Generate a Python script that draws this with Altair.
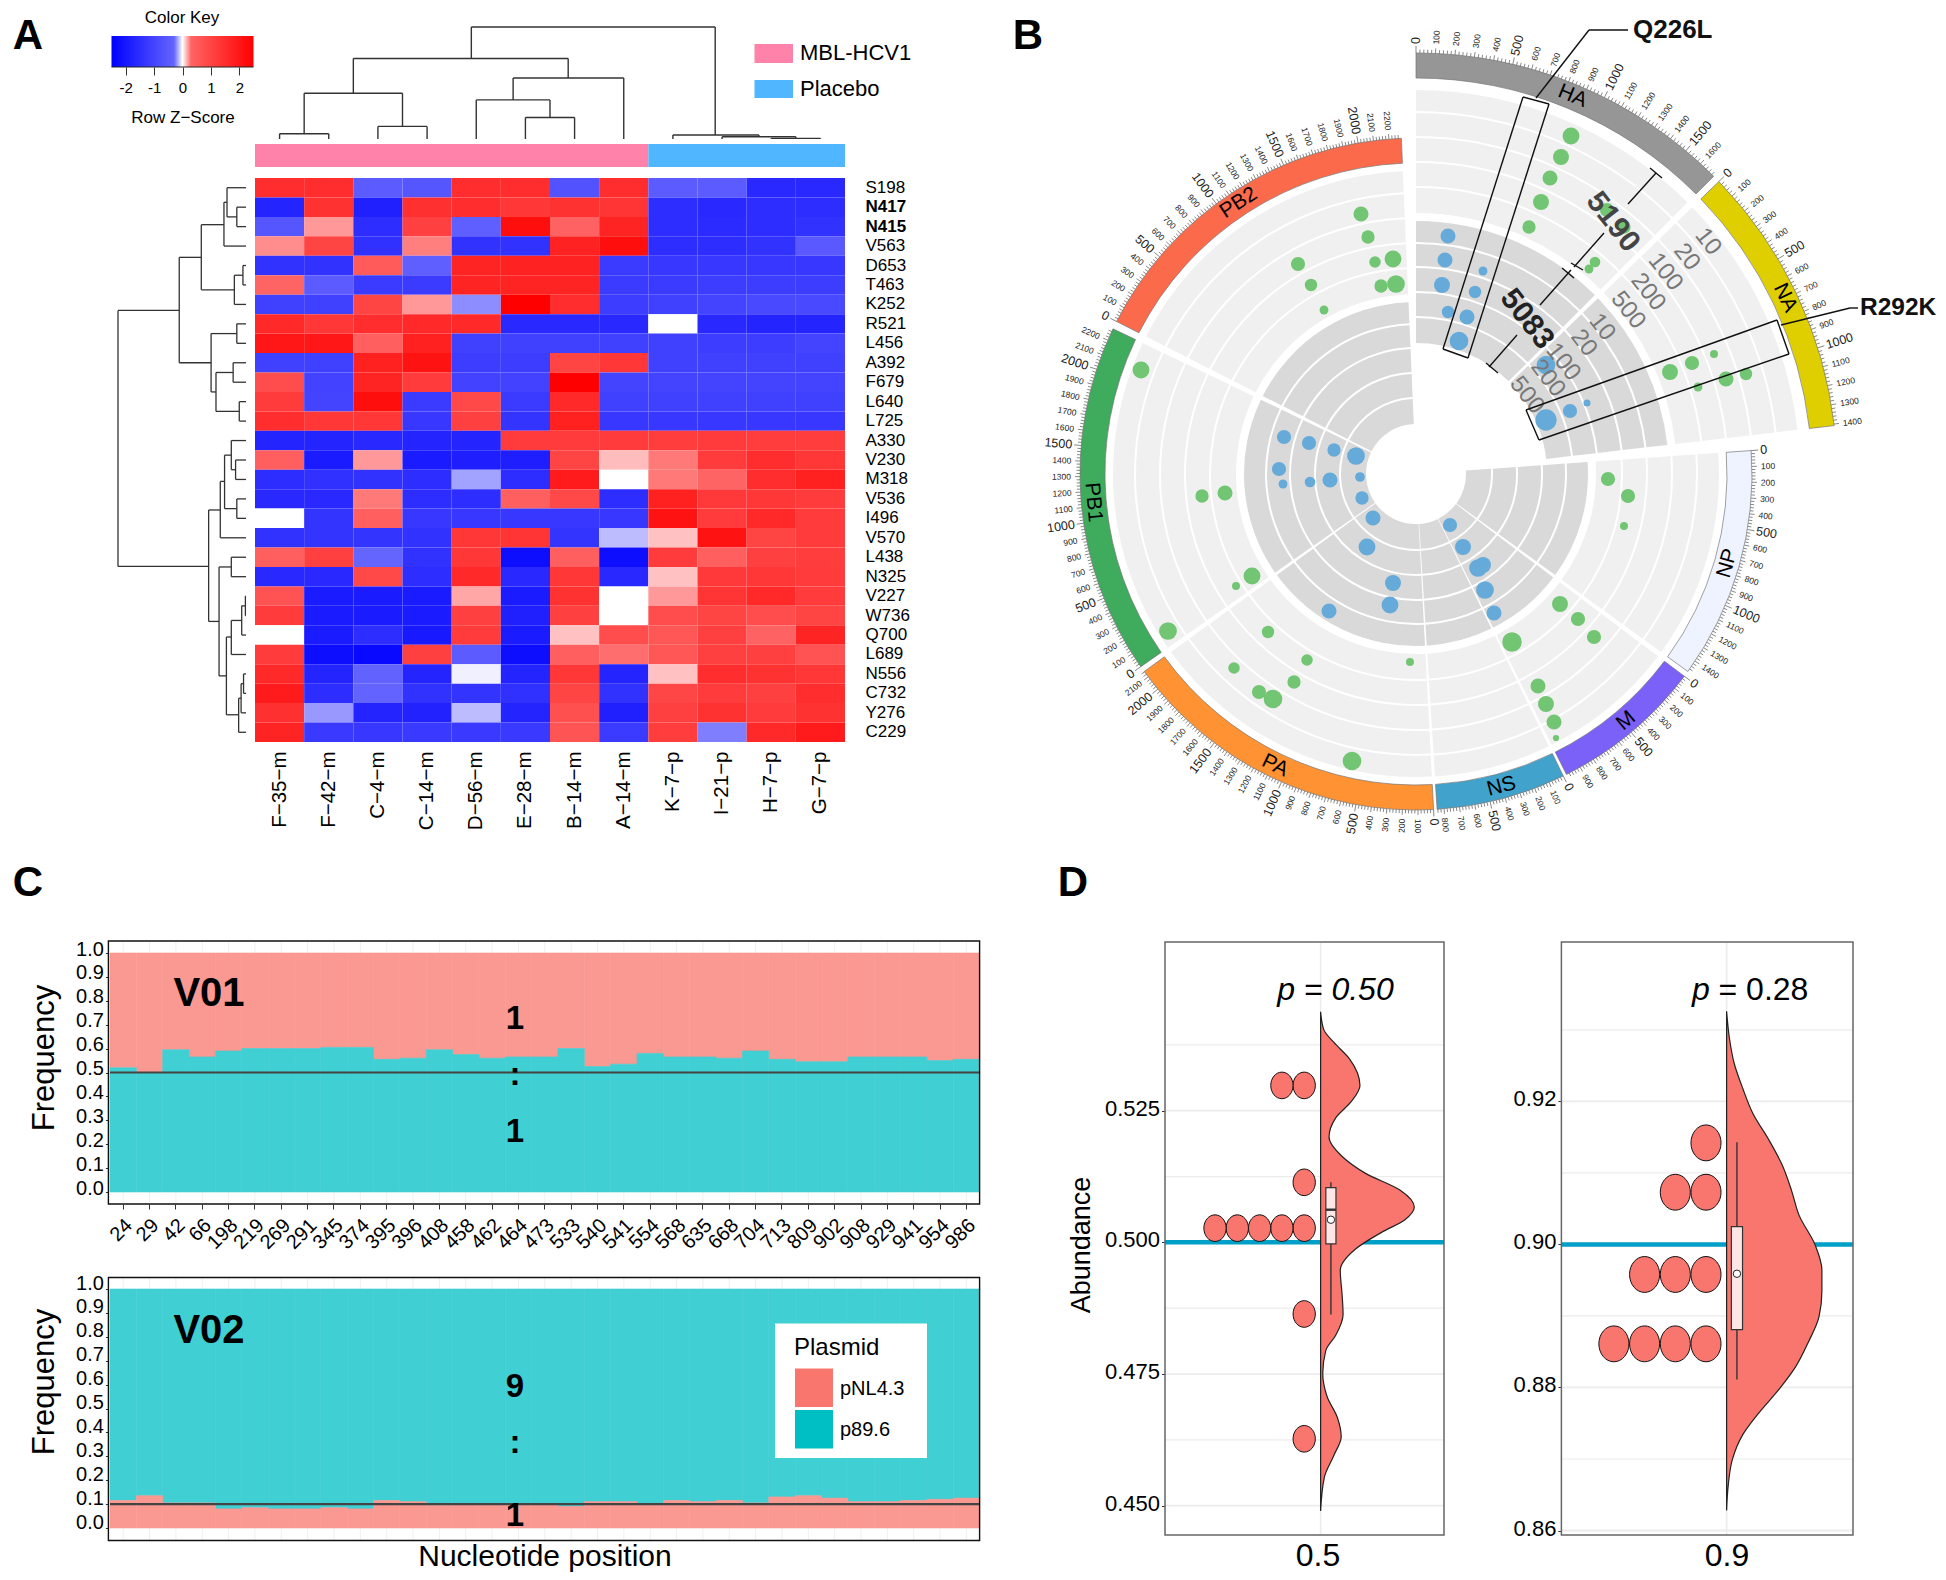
import math
import altair as alt
import pandas as pd

W, H = 1930, 1566
FONT = "Liberation Sans"
one = pd.DataFrame({"a": [0]})

# ---------------- Panel A data
hm_cols = ["F−35−m","F−42−m","C−4−m","C−14−m","D−56−m","E−28−m","B−14−m","A−14−m","K−7−p","I−21−p","H−7−p","G−7−p"]
hm_rows = ["S198","N417","N415","V563","D653","T463","K252","R521","L456","A392","F679","L640","L725","A330","V230","M318","V536","I496","V570","L438","N325","V227","W736","Q700","L689","N556","C732","Y276","C229"]
hm_vals = [
 [1.5,1.5,-.5,-.6,1.5,1.5,-.7,1.5,-.5,-.5,-1.6,-1.6],
 [-1.7,1.4,-1.8,1.45,1.5,1.3,1.4,1.35,-1.5,-1.6,-1.5,-1.5],
 [-.6,.2,-1.5,1.1,-.4,2.2,.35,1.7,-1.5,-1.55,-1.5,-1.4],
 [.22,1.0,-1.45,.25,-1.4,-1.4,1.75,2.2,-1.5,-1.5,-1.4,-.55],
 [-1.4,-1.4,.5,-.4,1.7,1.75,1.75,-1.2,-1.3,-1.3,-1.3,-1.3],
 [.3,-.5,-1.2,-1.2,1.7,1.7,1.7,-1.2,-1.2,-1.15,-1.15,-1.15],
 [-1.1,-1.1,1.0,.2,-.22,2.5,1.5,-1.15,-1.1,-1.0,-.9,-.9],
 [1.6,1.3,1.5,1.6,1.6,-1.6,-1.6,-1.6,0,-1.6,-1.7,-1.7],
 [2.0,2.0,.4,1.8,-1.1,-1.1,-1.1,-1.1,-1.1,-1.15,-1.15,-1.0],
 [-1.1,-1.1,1.8,2.1,-1.15,-1.15,1.0,1.3,-1.1,-1.1,-1.1,-1.1],
 [.8,-1.05,1.7,1.2,-1.05,-1.05,2.5,-1.0,-1.0,-1.0,-1.0,-1.0],
 [1.2,-1.0,2.2,-1.2,.9,-1.2,1.6,-1.1,-1.1,-1.1,-1.1,-1.1],
 [1.5,1.3,1.3,-1.3,1.1,-1.35,1.8,-1.3,-1.3,-1.3,-1.3,-1.3],
 [-1.7,-1.7,-1.6,-1.7,-1.7,1.2,1.2,1.2,1.15,1.2,1.15,1.15],
 [.4,-1.9,.2,-1.9,-1.85,-1.85,1.0,.13,.26,1.2,1.5,1.3],
 [-1.5,-1.45,-1.4,-1.5,-.18,-1.5,1.9,0,.26,.3,1.5,1.8],
 [-1.6,-1.6,.26,-1.5,-1.5,.4,.9,-1.5,1.8,1.25,1.3,1.2],
 [0,-1.35,.4,-1.3,-1.3,-1.3,-1.3,-1.3,2.1,1.2,1.6,1.2],
 [-1.4,-1.35,-1.35,-1.4,1.3,1.35,-1.35,-.13,.12,2.1,1.0,1.2],
 [.4,1.1,-.3,-1.4,1.3,-2.2,.4,-2.2,1.2,.4,1.1,1.15],
 [-1.6,-1.6,.9,-1.5,1.6,-1.6,1.3,-1.6,.12,1.25,1.3,1.2],
 [.7,-1.9,-1.9,-1.9,.17,-1.9,1.4,0,.2,1.35,1.6,1.2],
 [1.2,-1.9,-1.9,-1.9,1.1,-1.8,1.1,0,.8,1.0,.8,1.0],
 [0,-1.9,-1.5,-1.95,1.2,-1.9,.12,.8,.6,1.1,.35,1.7],
 [1.2,-2.2,-2.3,1.1,-.5,-2.2,.4,.28,.6,1.1,1.1,.7],
 [1.6,-1.7,-.35,-1.7,-.03,-1.7,1.3,-1.7,.12,1.5,1.4,1.3],
 [1.9,-1.5,-.33,-1.4,-1.35,-1.45,1.0,-1.4,.95,1.2,1.1,1.5],
 [1.45,-.2,-1.7,-1.75,-.13,-1.7,.75,-1.8,1.1,1.4,1.2,1.4],
 [1.7,-1.25,-1.3,-1.25,-1.25,-1.25,.65,-1.2,1.15,-.25,1.6,1.9],
]
hm_group_start = [0, 8]
hm_group_end = [8, 12]
hm_group_color = ["#ff82ab", "#4fb6ff"]
# column dendrogram: left, right, height, left child height, right child height
col_tree = [
 (.5,1.5,16,0,0),(2.5,3.5,38,0,0),(1,3,138,16,38),(5.5,6.5,65,0,0),(4.5,6,118,0,65),
 (5.25,7.5,184,118,0),(2,6.37,243,138,184),(10.5,11.5,2,0,0),(9.5,11,7,0,2),(8.5,10.25,12,0,7),
 (4.4,9.36,338,243,12),
]
# row dendrogram: height, row a, height a, row b, height b
row_tree = [
 (15,1.5,0,2.5,0),(31,.5,0,2,15),(36,1.25,31,3.5,0),(5,4.5,0,5.5,0),(19,5,5,6.5,0),(73,2.4,36,5.75,19),
 (15,7.5,0,8.5,0),(21,9.5,0,10.5,0),(11,11.5,0,12.5,0),(49,10,21,12,11),(57,8,15,11,49),(109,4.08,73,9.5,57),
 (17,14.5,0,15.5,0),(24,13.5,0,15,17),(15,16.5,0,17.5,0),(35,14.25,24,17,15),(42,15.6,35,18.5,0),
 (24,19.5,0,20.5,0),(1,21.5,0,22.5,0),(7,22,1,23.5,0),(24,22.75,7,24.5,0),(4,25.5,0,26.5,0),(8,26,4,27.5,0),
 (12,26.75,8,28.5,0),(32,23.6,24,27.6,12),(44,20,24,25.6,32),(61,17.07,42,22.8,44),(209,6.81,109,19.97,61),
]

# ---------------- Panel B data
sectors = ["HA","NA","NP","M","NS","PA","PB1","PB2"]
sector_start = [0,46,86,127,154,177,235,297]
sector_end = [45,83.4,126,153.4,176.4,234,295.6,357.5]
sector_len = [1693,1408,1480,1000,845,2143,2280,2280]
sector_color = ["#969696","#e0cf00","#eef3ff","#7b61f7","#41a3cc","#ff9233","#3fab5c","#fb6a4a"]
sector_label_theta = [22.5,64.5,106,139.6,164.7,205.8,265,326.8]
sector_label_angle = [22.5,64.5,286,320,345,25.8,85,327]
light_outer = [303,280,255,230,205]
light_inner = [282,257,232,207,180]
dark_outer = [172,149,125,100,75]
dark_inner = [151,127,102,77,50]
green_x = [1571,1561,1550,1541,1529,1607,1624,1595,1589,1670,1692,1714,1726,1746,1698,
           1361,1368,1393,1375,1298,1396,1381,1311,1324,1141,1202,1225,1252,1236,1168,1268,1234,1307,1294,1259,1273,1352,1410,
           1512,1538,1546,1554,1556,1560,1578,1594,1608,1628,1624]
green_y = [136,157,178,202,227,210,227,262,269,372,363,354,379,374,387,
           214,237,259,262,264,284,286,285,310,370,496,493,576,586,631,632,668,660,682,692,699,761,662,
           642,686,704,722,738,604,619,637,479,496,526]
green_d = [19,18,17,18,15,16,15,12,10,18,16,9,17,14,10,
           17,15,19,13,16,20,15,14,10,19,15,17,19,9,20,14,13,13,15,16,21,21,9,
           22,17,18,17,7,18,16,16,16,16,9]
blue_x = [1448,1445,1442,1448,1459,1467,1475,1483,1546,1546,1570,1587,
          1284,1309,1334,1356,1279,1283,1310,1330,1360,1362,1373,1367,1393,1390,1329,1450,1463,1483,1478,1485,1494]
blue_y = [236,260,285,312,341,317,292,271,365,420,411,403,
          437,443,450,456,469,484,482,480,477,498,518,547,583,605,611,525,547,565,568,590,613]
blue_d = [17,17,18,14,21,17,14,10,21,24,16,8,
          16,16,15,20,16,10,12,17,11,15,17,19,18,19,17,16,18,18,20,20,17]
track_labels = ["10","20","100","200","500"]
track_light_r = [373,347,321,295,268]
track_light_t = [51.5,51.3,51,51.9,52.3]
track_dark_r = [237,213,185,163,136]
track_dark_t = [51.7,52,52.7,54,54.6]
# bracket, callout and leader segments of the circular plot
seg_x0 = [1628,1650,1604,1571,1540,1562,1517,1486, 1523,1549,1468,1443, 1536,1589, 1526,1777,1789,1539, 1781,1850]
seg_y0 = [204,168,233,263,305,268,335,363, 97,104,358,349, 98,30, 410,320,354,440, 325,308]
seg_x1 = [1656,1662,1574,1583,1571,1574,1489,1498, 1549,1468,1443,1523, 1589,1628, 1777,1789,1539,1526, 1850,1858]
seg_y1 = [173,178,267,270,270,278,367,373, 104,358,349,97, 30,30, 320,354,440,410, 308,308]

# ---------------- Panel C data
positions = ["24","29","42","66","198","219","269","291","345","374","395","396","408","458","462","464","473","533","540","541","554","568","635","668","704","713","809","902","908","929","941","954","986"]
v01_p89 = [.52,.50,.595,.565,.59,.60,.60,.60,.605,.605,.555,.56,.595,.575,.56,.565,.565,.60,.525,.535,.58,.565,.565,.56,.59,.555,.545,.545,.565,.565,.565,.55,.555]
v02_pnl = [.115,.135,.105,.105,.08,.085,.08,.08,.085,.08,.115,.11,.095,.10,.10,.10,.10,.09,.11,.11,.10,.115,.11,.115,.105,.13,.135,.125,.11,.11,.115,.12,.125]

# ---------------- Panel D data
d1_y = [.5438,.5404,.5380,.5348,.5298,.5268,.5236,.5200,.5163,.5131,.5099,.5067,.5043,.5019,.4987,.4947,.4899,.4863,.4823,.4795,.4751,.4707,.4667,.4631,.4595,.4554,.4490]
d1_w = [0,.034,.14,.31,.42,.33,.16,.09,.23,.48,.85,1,.90,.65,.37,.21,.23,.24,.16,.056,.023,.07,.18,.22,.14,.04,0]
d1_dot_y = [.5298,.5298,.5114,.5027,.5027,.5027,.5027,.5027,.4864,.4627]
d1_dot_k = [0,1,0,0,1,2,3,4,0,0]
d2_y = [.9326,.9288,.9253,.9218,.9182,.9147,.9112,.9076,.9041,.8999,.8964,.8935,.8899,.8864,.8828,.8799,.8763,.8734,.8699,.8663,.8628]
d2_w = [0,.03,.08,.17,.28,.44,.58,.68,.76,.93,1,1,.97,.86,.72,.56,.33,.17,.06,.017,0]
d2_dot_y = [.9142,.9073,.9073,.8958,.8958,.8958,.8861,.8861,.8861,.8861]
d2_dot_k = [0,0,1,0,1,2,0,1,2,3]

# ---------------- helpers (full-page pixel positions minus the 8px margin)
def px(v):
    return v - 8
def V(v):
    return alt.value(v - 8)
def lin(d0, d1, r0, r1):
    return alt.Scale(type="linear", domain=[d0, d1], range=[px(r0), px(r1)], nice=False, zero=False)
def txt(s, x, y, size, **kw):
    kw.setdefault("color", "black")
    kw.setdefault("font", FONT)
    kw.setdefault("baseline", "middle")
    return alt.Chart(one).mark_text(text=s, fontSize=size, **kw).encode(x=V(x), y=V(y))
def box(x0, y0, x1, y1, **kw):
    return alt.Chart(one).mark_rect(**kw).encode(x=V(x0), x2=V(x1), y=V(y0), y2=V(y1))
def left_axis(x, **kw):
    return alt.Axis(orient="left", offset=-px(x), domain=False, grid=False, title=None, labelFont=FONT, labelColor="black", tickColor="#333", **kw)
def bottom_axis(y, **kw):
    return alt.Axis(orient="bottom", offset=px(y) - H, domain=False, grid=False, title=None, labelFont=FONT, labelColor="black", tickColor="#333", **kw)

layers = []
for letter, lx, ly in [("A", 28, 36), ("B", 1028, 36), ("C", 28, 883), ("D", 1073, 883)]:
    layers.append(txt(letter, lx, ly, 42, fontWeight="bold"))

# ---------------- Panel A
hx0, hx1, hy0, hy1 = 255, 845, 178, 742
heat = pd.DataFrame([{"row": r, "col": c, "z": hm_vals[i][j]} for i, r in enumerate(hm_rows) for j, c in enumerate(hm_cols)])
COLORS = alt.Scale(domain=[-2.5, -.3, 0, .3, 2.5], range=["#0000ff", "#6464ff", "#ffffff", "#ff6464", "#ff0000"], interpolate="rgb")
layers.append(alt.Chart(heat).mark_rect().encode(
    x=alt.X("col:N", sort=None, scale=alt.Scale(domain=hm_cols, range=[px(hx0), px(hx1)], paddingInner=0, paddingOuter=0),
            axis=bottom_axis(hy1, labelAngle=270, labelAlign="right", labelBaseline="middle", labelFontSize=20.5, ticks=False, labelPadding=9, labelOverlap=False)),
    y=alt.Y("row:N", sort=None, scale=alt.Scale(domain=hm_rows, range=[px(hy0), px(hy1)], paddingInner=0, paddingOuter=0),
            axis=alt.Axis(orient="right", offset=px(hx1) - W, domain=False, grid=False, ticks=False, title=None, labelFont=FONT, labelFontSize=17,
                          labelColor="black", labelPadding=20, labelOverlap=False,
                          labelFontWeight=alt.expr("(datum.value=='N417'||datum.value=='N415')?'bold':'normal'"))),
    color=alt.Color("z:Q", scale=COLORS, legend=None),
))
strip = pd.DataFrame({"s": hm_group_start, "e": hm_group_end, "c": hm_group_color})
layers.append(alt.Chart(strip).mark_rect().encode(
    x=alt.X("s:Q", scale=lin(0, 12, hx0, hx1), axis=None), x2="e:Q",
    y=V(144), y2=V(167), fill=alt.Fill("c:N", scale=None)))
cseg = []
for l, r, h, hl, hr in col_tree:
    cseg += [(l, h, r, h), (l, hl, l, h), (r, hr, r, h)]
cseg = pd.DataFrame(cseg, columns=["x0", "y0", "x1", "y1"])
layers.append(alt.Chart(cseg).mark_rule(color="#333", strokeWidth=1.4).encode(
    x=alt.X("x0:Q", scale=lin(0, 12, hx0, hx1), axis=None), x2="x1:Q",
    y=alt.Y("y0:Q", scale=lin(0, 338, 139, 27), axis=None), y2="y1:Q"))
rseg = []
for h, ra, ha, rb, hb in row_tree:
    rseg += [(h, ra, h, rb), (ha, ra, h, ra), (hb, rb, h, rb)]
rseg = pd.DataFrame(rseg, columns=["x0", "y0", "x1", "y1"])
layers.append(alt.Chart(rseg).mark_rule(color="#333", strokeWidth=1.3).encode(
    x=alt.X("x0:Q", scale=lin(0, 209, 246, 118), axis=None), x2="x1:Q",
    y=alt.Y("y0:Q", scale=lin(0, 29, hy0, hy1), axis=None), y2="y1:Q"))
# colour key
grad = alt.LinearGradient(gradient="linear", x1=0, x2=1, y1=0, y2=0, stops=[
    alt.GradientStop(color="#0000ff", offset=0), alt.GradientStop(color="#6464ff", offset=.44),
    alt.GradientStop(color="#ffffff", offset=.5), alt.GradientStop(color="#ff6464", offset=.56), alt.GradientStop(color="#ff0000", offset=1)])
key = pd.DataFrame({"a": [-2.5], "b": [2.5]})
layers.append(alt.Chart(key).mark_rect(fill=grad).encode(
    x=alt.X("a:Q", scale=lin(-2.5, 2.5, 111.5, 253.5),
            axis=bottom_axis(67, values=[-2, -1, 0, 1, 2], tickSize=8, labelFontSize=15, labelPadding=5, labelExpr="''+datum.value")),
    x2="b:Q", y=V(36), y2=V(67)))
layers.append(box(111.5, 66.5, 253.5, 67.5, fill="#222"))
layers.append(txt("Color Key", 182, 18, 17))
layers.append(txt("Row Z−Score", 183, 118, 17))
layers.append(box(754.5, 44, 793, 63, fill=hm_group_color[0]))
layers.append(box(754.5, 80, 793, 98, fill=hm_group_color[1]))
layers.append(txt("MBL-HCV1", 800, 53, 22, align="left"))
layers.append(txt("Placebo", 800, 89, 22, align="left"))

# ---------------- Panel B
CX, CY = 1416, 474
def arc_rows():
    rows = []
    for i, s in enumerate(sectors):
        off = 81 if i < 2 else 0
        for o, n in zip(light_outer, light_inner):
            rows.append((sector_start[i], sector_end[i], n + off, o + off, "#f0f0f0", "track"))
        for o, n in zip(dark_outer, dark_inner):
            rows.append((sector_start[i], sector_end[i], n + off, o + off, "#d9d9d9", "track"))
    return pd.DataFrame(rows, columns=["t0", "t1", "r0", "r1", "c", "k"])
THETA = alt.Scale(type="linear", domain=[0, 360], range=[0, 2 * math.pi])
RAD = alt.Scale(type="linear", domain=[0, 500], range=[0, 500], nice=False, zero=False)
def arcs(df, **kw):
    return alt.Chart(df).mark_arc(**kw).encode(
        theta=alt.Theta("t0:Q", scale=THETA, stack=None), theta2="t1:Q",
        radius=alt.Radius("r1:Q", scale=RAD, stack=None), radius2="r0:Q",
        fill=alt.Fill("c:N", scale=None), x=V(CX), y=V(CY))
layers.append(arcs(arc_rows()))
bands = pd.DataFrame([{"t0": sector_start[i], "t1": sector_end[i], "r0": 311 + (85 if i < 2 else 0), "r1": 336 + (85 if i < 2 else 0), "c": sector_color[i]} for i in range(8)])
layers.append(arcs(bands, stroke="#777", strokeWidth=.7))

PAGE_X = alt.Scale(type="linear", domain=[0, 1946], range=[-8, 1938], nice=False, zero=False)
PAGE_Y = alt.Scale(type="linear", domain=[0, 1580], range=[-8, 1572], nice=False, zero=False)
def polar(theta, r):
    t = math.radians(theta)
    return CX + r * math.sin(t), CY - r * math.cos(t)
ticks, labels, names = [], [], []
for i, s in enumerate(sectors):
    ro = 336 + (85 if i < 2 else 0)
    rate = (sector_end[i] - sector_start[i]) / sector_len[i]
    for p in range(0, sector_len[i], 20):
        t = sector_start[i] + p * rate
        major = p % 500 == 0
        long_tick = p % 100 == 0
        x0, y0 = polar(t, ro)
        x1, y1 = polar(t, ro + (7 if major else 5 if long_tick else 3.5))
        ticks.append((x0, y0, x1, y1))
        if long_tick:
            lx, ly = polar(t, ro + 9)
            norm = t % 360
            right = norm < 180
            labels.append({"x": lx, "y": ly, "text": str(p), "a": (norm - 90) % 360 if right else (norm + 90) % 360,
                           "s": 12.5 if major else 8.5, "right": right})
    lx, ly = polar(sector_label_theta[i], ro - 12)
    names.append({"x": lx, "y": ly, "text": s, "a": sector_label_angle[i]})
ticks = pd.DataFrame(ticks, columns=["x0", "y0", "x1", "y1"])
labels = pd.DataFrame(labels)
names = pd.DataFrame(names)
layers.append(alt.Chart(ticks).mark_rule(color="#555", strokeWidth=.7).encode(
    x=alt.X("x0:Q", scale=PAGE_X, axis=None), x2="x1:Q", y=alt.Y("y0:Q", scale=PAGE_Y, axis=None), y2="y1:Q"))
def polar_text(df, **kw):
    return alt.Chart(df).mark_text(font=FONT, baseline="middle", **kw).encode(
        x=alt.X("x:Q", scale=PAGE_X, axis=None), y=alt.Y("y:Q", scale=PAGE_Y, axis=None), text="text:N",
        angle=alt.Angle("a:Q", scale=None))
layers.append(polar_text(labels[labels.right], align="left", color="#222").encode(size=alt.Size("s:Q", scale=None)))
layers.append(polar_text(labels[~labels.right], align="right", color="#222").encode(size=alt.Size("s:Q", scale=None)))
layers.append(polar_text(names, align="center", color="black", fontSize=21))
def dots(xs, ys, ds, color):
    df = pd.DataFrame({"x": xs, "y": ys, "d": ds})
    return alt.Chart(df).mark_circle(color=color, opacity=1).encode(
        x=alt.X("x:Q", scale=PAGE_X, axis=None), y=alt.Y("y:Q", scale=PAGE_Y, axis=None),
        size=alt.Size("d:Q", scale=alt.Scale(type="pow", exponent=2, domain=[0, 24], range=[0, 452.4]), legend=None))
layers.append(dots(green_x, green_y, green_d, "#72c572"))
layers.append(dots(blue_x, blue_y, blue_d, "#65aad8"))
tl = []
for lab, r, t in list(zip(track_labels, track_light_r, track_light_t)) + list(zip(track_labels, track_dark_r, track_dark_t)):
    x, y = polar(t, r)
    tl.append({"x": x, "y": y, "text": lab, "a": 52})
layers.append(polar_text(pd.DataFrame(tl), align="center", color="#777", fontSize=24))
for s, x, y, col in [("5190", 1613, 222, "#444"), ("5083", 1527, 319, "#222")]:
    layers.append(txt(s, x, y, 30, fontWeight="bold", angle=52, color=col))
segs = pd.DataFrame({"x0": seg_x0, "y0": seg_y0, "x1": seg_x1, "y1": seg_y1})
layers.append(alt.Chart(segs).mark_rule(color="#111", strokeWidth=1.4).encode(
    x=alt.X("x0:Q", scale=PAGE_X, axis=None), x2="x1:Q", y=alt.Y("y0:Q", scale=PAGE_Y, axis=None), y2="y1:Q"))
layers.append(txt("Q226L", 1633, 30, 26, fontWeight="bold", align="left", color="#111"))
layers.append(txt("R292K", 1860, 308, 24.5, fontWeight="bold", align="left", color="#111"))

# ---------------- Panel C
SALMON, TEAL = "#F8766D", "#00BFC4"
SALMON_SOFT, TEAL_SOFT = "#FA9892", "#40CFD3"
cx0, cx1 = 110, 979.6
def band_x(axis):
    return alt.X("pos:N", sort=None, scale=alt.Scale(domain=positions, range=[px(cx0), px(cx1)], paddingInner=0, paddingOuter=0), axis=axis)
def freq_panel(frame_top, frame_bottom, y1, y0, low, low_col, high_col, ref, xaxis, lab_off):
    yscale = lin(0, 1, y0, y1)
    df = pd.DataFrame({"pos": positions, "f": low, "zero": 0.0, "one": 1.0})
    out = []
    out.append(alt.Chart(df).mark_rule(color="#f0f0f0", strokeWidth=1).encode(
        x=band_x(None), y=V(frame_top), y2=V(frame_bottom)))
    yaxis = left_axis(108.4, values=[i / 10 for i in range(11)], format=".1f", labelFontSize=20, tickSize=3, labelPadding=2, labelOverlap=False, labelFlush=False, labelOffset=lab_off)
    out.append(alt.Chart(df).mark_rect(color=high_col, stroke=high_col, strokeWidth=.6).encode(
        x=band_x(None), y=alt.Y("f:Q", scale=yscale, axis=None), y2="one:Q"))
    out.append(alt.Chart(df).mark_rect(color=low_col, stroke=low_col, strokeWidth=.6).encode(
        x=band_x(xaxis), y=alt.Y("zero:Q", scale=yscale, axis=yaxis), y2="f:Q"))
    rule = pd.DataFrame({"y": [ref]})
    out.append(alt.Chart(rule).mark_rule(color="#444", strokeWidth=2.2).encode(
        x=V(cx0), x2=V(cx1), y=alt.Y("y:Q", scale=yscale, axis=None)))
    out.append(box(108.4, frame_top, 979.6, frame_bottom, fillOpacity=0, stroke="#111", strokeWidth=1.4))
    return out
layers += freq_panel(941, 1204, 953, 1192, v01_p89, TEAL_SOFT, SALMON_SOFT, .5,
                     bottom_axis(1204, labelAngle=-45, labelAlign="right", labelBaseline="middle", labelFontSize=20, tickSize=5, labelPadding=13, labelOffset=6, labelOverlap=False), -4)
layers += freq_panel(1277.5, 1540.5, 1289, 1528, v02_pnl, SALMON_SOFT, TEAL_SOFT, .1, None, -6)
for s, x, y, size in [("V01", 209, 994, 40), ("1", 515, 1019, 33), (":", 515, 1075, 33), ("1", 515, 1132, 33),
                      ("V02", 209, 1331, 40), ("9", 515, 1387, 33), (":", 515, 1443, 33), ("1", 515, 1516, 33)]:
    layers.append(txt(s, x, y, size, fontWeight="bold"))
layers.append(txt("Frequency", 45, 1058, 31, angle=270))
layers.append(txt("Frequency", 45, 1382, 31, angle=270))
layers.append(txt("Nucleotide position", 545, 1557, 30))
layers.append(box(775, 1323.5, 927, 1458, fill="white"))
layers.append(txt("Plasmid", 794, 1348, 24, align="left"))
layers.append(box(795, 1368.5, 833, 1407, fill=SALMON))
layers.append(box(795, 1410, 833, 1448.5, fill=TEAL))
layers.append(txt("pNL4.3", 840, 1389, 20, align="left"))
layers.append(txt("p89.6", 840, 1430, 20, align="left"))

# ---------------- Panel D
DOT = "M -0.838 0 A 0.838 1 0 1 1 0.838 0 A 0.838 1 0 1 1 -0.838 0 Z"
def rain(fx0, fx1, cx, wmax, ys, ws, y_hi, v_hi, y_lo, v_lo, ticks_at, minors, axis_fmt, ref, dot_y, dot_k, k0, kstep, dot_h,
         box_x, q1, q3, med, whisk, mean):
    sc = lin(v_lo, v_hi, y_lo, y_hi)
    sx = lin(0, 1, cx, cx + wmax)
    out = []
    grid = pd.DataFrame({"y": ticks_at + minors, "w": [1.8] * len(ticks_at) + [1.2] * len(minors)})
    out.append(alt.Chart(grid).mark_rule(color="#ececec").encode(
        x=V(fx0), x2=V(fx1), y=alt.Y("y:Q", scale=sc, axis=None), strokeWidth=alt.StrokeWidth("w:Q", scale=None)))
    out.append(alt.Chart(one).mark_rule(color="#ececec", strokeWidth=1.5).encode(x=V(cx), y=V(942), y2=V(1535)))
    refdf = pd.DataFrame({"y": [ref]})
    out.append(alt.Chart(refdf).mark_rule(color="#009fc7", strokeWidth=4.5).encode(
        x=V(fx0), x2=V(fx1),
        y=alt.Y("y:Q", scale=sc, axis=left_axis(fx0, values=ticks_at, format=axis_fmt, labelFontSize=22, tickSize=3.5, labelPadding=2, labelOverlap=False, labelOffset=-2.5))))
    vio = pd.DataFrame({"y": ys, "w": ws, "z": [0.0] * len(ws)})
    out.append(alt.Chart(vio).mark_area(orient="horizontal", interpolate="monotone", fill=SALMON, stroke="#222", strokeWidth=1.2).encode(
        y=alt.Y("y:Q", scale=sc, axis=None), x=alt.X("z:Q", scale=sx, axis=None), x2="w:Q"))
    dd = pd.DataFrame({"y": dot_y, "k": dot_k})
    out.append(alt.Chart(dd).mark_point(shape=DOT, filled=True, fill=SALMON, stroke="#111", strokeWidth=1, opacity=1, size=dot_h ** 2).encode(
        y=alt.Y("y:Q", scale=sc, axis=None), x=alt.X("k:Q", scale=lin(0, 4, k0, k0 - 4 * kstep), axis=None)))
    wh = pd.DataFrame({"a": [whisk[0]], "b": [whisk[1]], "x": [(box_x[0] + box_x[1]) / 2]})
    out.append(alt.Chart(wh).mark_rule(color="#333", strokeWidth=1.4).encode(
        x=alt.X("x:Q", scale=sx, axis=None), y=alt.Y("a:Q", scale=sc, axis=None), y2="b:Q"))
    bx = pd.DataFrame({"x0": [box_x[0]], "x1": [box_x[1]], "q1": [q1], "q3": [q3]})
    out.append(alt.Chart(bx).mark_rect(fill="#ffe6e6", stroke="#333", strokeWidth=1.2).encode(
        x=alt.X("x0:Q", scale=sx, axis=None), x2="x1:Q", y=alt.Y("q1:Q", scale=sc, axis=None), y2="q3:Q"))
    if med is not None:
        md = pd.DataFrame({"y": [med], "x0": [box_x[0]], "x1": [box_x[1]]})
        out.append(alt.Chart(md).mark_rule(color="#333", strokeWidth=2.4).encode(
            x=alt.X("x0:Q", scale=sx, axis=None), x2="x1:Q", y=alt.Y("y:Q", scale=sc, axis=None)))
    mn = pd.DataFrame({"y": [mean], "x": [(box_x[0] + box_x[1]) / 2]})
    out.append(alt.Chart(mn).mark_point(shape="circle", filled=True, fill="white", stroke="#222", strokeWidth=1, opacity=1, size=55).encode(
        x=alt.X("x:Q", scale=sx, axis=None), y=alt.Y("y:Q", scale=sc, axis=None)))
    out.append(box(fx0, 942, fx1, 1535, fillOpacity=0, stroke="#666", strokeWidth=1.5))
    return out
layers += rain(1165, 1444, 1320.6, 93.7, d1_y, d1_w, 1110.7, .525, 1505.7, .45, [.45, .475, .5, .525], [.4625, .4875, .5125, .5375], ".3f", .5,
               d1_dot_y, d1_dot_k, 1304.2, 22.3, 26.6, (.056, .164), .4997, .5104, .5062, (.5114, .4863), .5043)
layers += rain(1561.4, 1853, 1726.6, 95.3, d2_y, d2_w, 1101.4, .92, 1530.5, .86, [.86, .88, .90, .92], [.87, .89, .91, .93], ".2f", .90,
               d2_dot_y, d2_dot_k, 1706, 30.7, 35.9, (.05, .167), .8881, .9025, None, (.9143, .8811), .8959)
layers.append(txt("Abundance", 1082, 1245, 27, angle=270))
layers.append(txt("p = 0.50", 1335.4, 989.6, 32, fontStyle="italic"))
layers.append(txt("p", 1692, 989.6, 32, fontStyle="italic", align="left"))
layers.append(txt("= 0.28", 1718.5, 989.6, 32, align="left"))
layers.append(txt("0.5", 1318, 1556, 32))
layers.append(txt("0.9", 1727, 1556, 32))

chart = alt.layer(*layers).resolve_scale(
    x="independent", y="independent", color="independent", fill="independent",
    theta="independent", radius="independent", size="independent", angle="independent", strokeWidth="independent"
).resolve_axis(x="independent", y="independent").properties(
    width=W, height=H, padding=0, autosize=alt.AutoSizeParams(type="none"), background="white",
    view=alt.ViewBackground(stroke="transparent", strokeWidth=0)
).configure_view(stroke="transparent", strokeWidth=0).configure(font=FONT)

chart.save("out.html", embed_options={"renderer": "svg", "actions": False})
